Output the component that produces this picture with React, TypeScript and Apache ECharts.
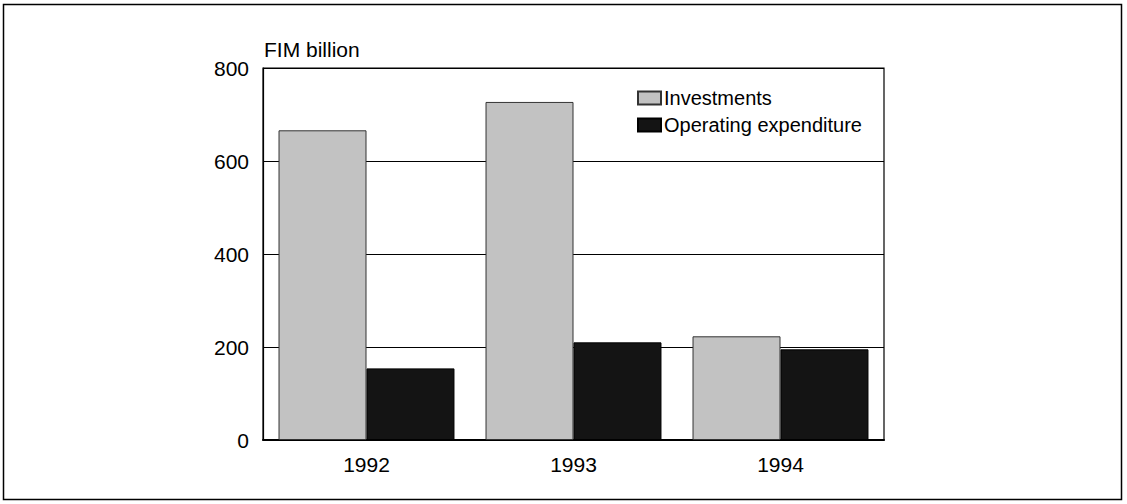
import React, { useEffect, useRef } from "react";
import * as echarts from "echarts";

const categories = ["1992", "1993", "1994"];
const investments = [666, 727, 223];
const operating = [154, 210, 195];
const yTicks = [0, 200, 400, 600, 800];

export default function App() {
  const ref = useRef<HTMLDivElement>(null);
  useEffect(() => {
    document.body.style.margin = "0";
    const chart = echarts.init(ref.current!, null, { renderer: "svg" });
    const font = "'Liberation Sans', Arial, sans-serif";
    chart.setOption({
      animation: false,
      backgroundColor: "#ffffff",
      textStyle: { fontFamily: font },
      grid: { left: 263, right: 243, top: 68, bottom: 64, show: true, borderColor: "#000", borderWidth: 1.2 },
      legend: {
        orient: "vertical",
        left: 632,
        top: 83,
        itemWidth: 23,
        itemHeight: 13,
        itemGap: 7,
        icon: "rect",
        textStyle: { fontSize: 20, color: "#000", fontFamily: font, padding: [0, 0, 0, -2] },
        data: ["Investments", "Operating expenditure"],
      },
      xAxis: {
        type: "category",
        data: categories,
        axisLine: { lineStyle: { color: "#000", width: 2 } },
        axisTick: { show: false },
        axisLabel: { fontSize: 21, color: "#000", margin: 14, fontFamily: font },
      },
      yAxis: {
        type: "value",
        min: yTicks[0],
        max: yTicks[yTicks.length - 1],
        interval: 200,
        axisLine: { show: true, lineStyle: { color: "#000", width: 1.2 } },
        axisTick: { show: false },
        axisLabel: { fontSize: 21, color: "#000", margin: 14, fontFamily: font },
        splitLine: { lineStyle: { color: "#000", width: 1 } },
      },
      series: [
        {
          name: "Investments",
          type: "bar",
          data: investments,
          barGap: "0%",
          barCategoryGap: "15%",
          itemStyle: { color: "#c2c2c2", borderColor: "#333", borderWidth: 1 },
        },
        {
          name: "Operating expenditure",
          type: "bar",
          data: operating,
          itemStyle: { color: "#141414", borderColor: "#000", borderWidth: 1 },
        },
      ],
      graphic: [
        {
          type: "rect",
          shape: { x: 3.5, y: 4.5, width: 1118, height: 495 },
          style: { fill: "none", stroke: "#000", lineWidth: 1.5 },
          silent: true,
        },
        {
          type: "text",
          x: 264,
          y: 39,
          style: { text: "FIM billion", fontSize: 21, fill: "#000", fontFamily: font },
        },
      ],
    });
    return () => chart.dispose();
  }, []);
  return <div ref={ref} style={{ width: 1127, height: 504, position: "absolute", left: 0, top: 0 }} />;
}
